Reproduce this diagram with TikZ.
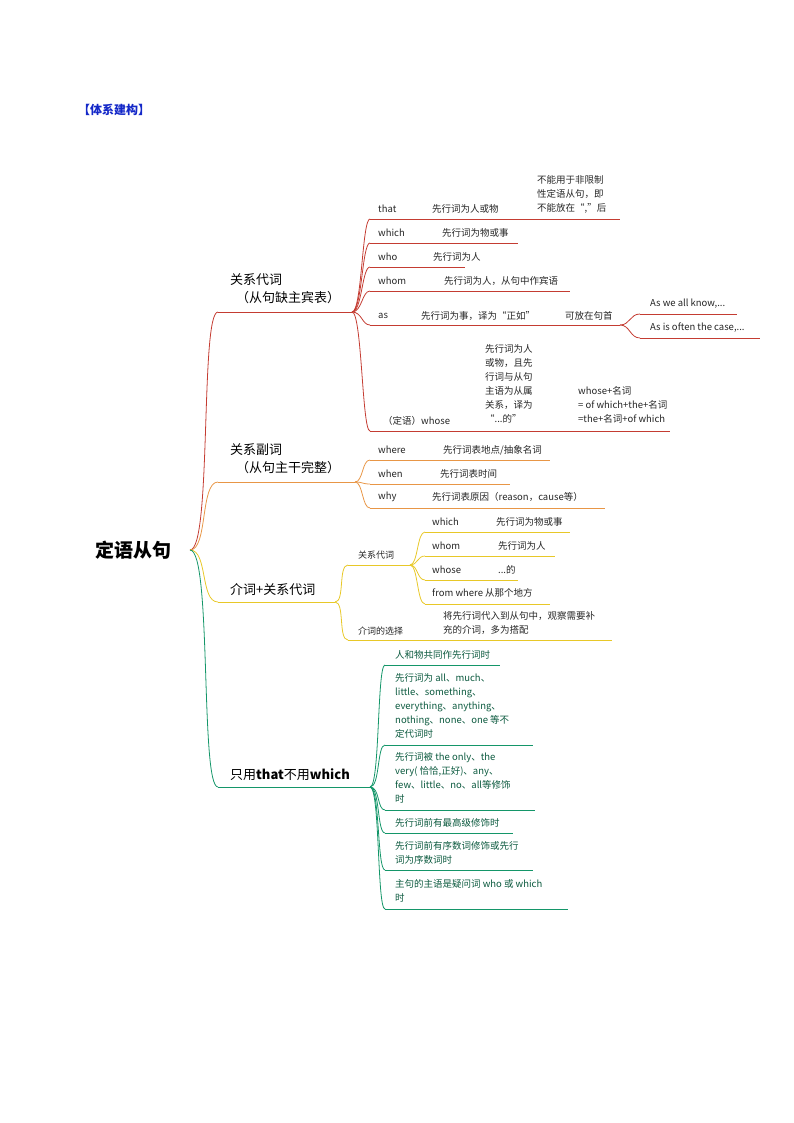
\documentclass[tikz,border=0pt]{standalone}
\usepackage{fontspec}
\setmainfont{Noto Sans CJK SC}
\begin{document}
\begin{tikzpicture}[x=1pt,y=-1pt,
  t/.style={anchor=west,inner sep=0,font=\fontsize{9.5}{13.5}\selectfont,text=tc,align=left},
  tm/.style={anchor=north west,inner sep=0,font=\fontsize{9.5}{14}\selectfont,text=tc,align=left},
  big/.style={anchor=west,inner sep=0,font=\fontsize{13}{18}\selectfont,text=black,align=left},
  ln/.style={line width=0.8pt},
  cv/.style={line width=0.8pt}]
\colorlet{tc}{black!85}
\definecolor{cr}{RGB}{196,60,50}
\definecolor{co}{RGB}{232,150,70}
\definecolor{cy}{RGB}{232,200,40}
\definecolor{cg}{RGB}{20,150,105}
\useasboundingbox (0,0) rectangle (794,1123);
\node[anchor=west,inner sep=0,text={rgb,255:red,20;green,40;blue,200},font=\bfseries\fontsize{12}{14}\selectfont] (title) at (78,110) {【体系建构】};
\node[anchor=west,inner sep=0,font=\bfseries\fontsize{19}{22}\selectfont] (root) at (95,550) {定语从句};
\coordinate (R) at (190,550);
% ---------- red ----------
\begin{scope}[draw=cr]
\node[big] (b1) at (230,280) {关系代词};
\node[big] (b1b) at (236,298) {（从句缺主宾表）};
\coordinate (b1s) at (218,312); \coordinate (b1e) at (352,312);
\draw[cv] (R) .. controls (212,550) and (200,312) .. (b1s);
\draw[ln] (b1s) -- (b1e);
\foreach \n/\y/\e in {a/219/620,b/243/518,c/267/465,d/291/570,e/325/620,f/431/670}{
  \coordinate (r\n-s) at (370,\y); \coordinate (r\n-e) at (\e,\y);
  \draw[cv] (b1e) .. controls (362,312) and (362,\y) .. (r\n-s);
  \draw[ln] (r\n-s) -- (r\n-e);}
\node[t] (t1) at (378,209) {that};
\node[t] (t1a) at (432,209) {先行词为人或物};
\node[tm] (t1b) at (537,175) {不能用于非限制\\性定语从句，即\\不能放在“,”后};
\node[t] (t2) at (378,233) {which};
\node[t] (t2a) at (442,233) {先行词为物或事};
\node[t] (t3) at (378,257) {who};
\node[t] (t3a) at (433,257) {先行词为人};
\node[t] (t4) at (378,281) {whom};
\node[t] (t4a) at (444,281) {先行词为人，从句中作宾语};
\node[t] (t5) at (378,316) {as};
\node[t] (t5a) at (421,316) {先行词为事，译为“正如”};
\node[t] (t5b) at (565,316) {可放在句首};
\coordinate (asa) at (640,314); \coordinate (asae) at (737,314);
\coordinate (asb) at (640,338); \coordinate (asbe) at (760,338);
\draw[cv] (re-e) .. controls (630,325) and (630,314) .. (asa); \draw[ln] (asa) -- (asae);
\draw[cv] (re-e) .. controls (630,325) and (630,338) .. (asb); \draw[ln] (asb) -- (asbe);
\node[t] (t5c) at (650,304) {As we all know,...};
\node[t] (t5d) at (650,328) {As is often the case,...};
\node[t] (t6) at (383,421) {（定语）whose};
\node[tm] (t6a) at (485,344) {先行词为人\\或物，且先\\行词与从句\\主语为从属\\关系，译为\\“...的”};
\node[tm] (t6b) at (578,386) {whose+名词\\= of which+the+名词\\=the+名词+of which};
\end{scope}
% ---------- orange ----------
\begin{scope}[draw=co]
\node[big] (b2) at (230,450) {关系副词};
\node[big] (b2b) at (236,468) {（从句主干完整）};
\coordinate (b2s) at (218,482); \coordinate (b2e) at (355,482);
\draw[cv] (R) .. controls (208,550) and (200,482) .. (b2s);
\draw[ln] (b2s) -- (b2e);
\foreach \n/\y/\e in {a/460/550,b/484/510,c/508/605}{
  \coordinate (o\n-s) at (370,\y); \coordinate (o\n-e) at (\e,\y);
  \draw[cv] (b2e) .. controls (363,482) and (362,\y) .. (o\n-s);
  \draw[ln] (o\n-s) -- (o\n-e);}
\node[t] (o1) at (378,450) {where};
\node[t] (o1a) at (443,450) {先行词表地点/抽象名词};
\node[t] (o2) at (378,474) {when};
\node[t] (o2a) at (440,474) {先行词表时间};
\node[t] (o3) at (378,497) {why};
\node[t] (o3a) at (432,497) {先行词表原因（reason，cause等）};
\end{scope}
% ---------- yellow ----------
\begin{scope}[draw=cy]
\node[big] (b3) at (230,590) {介词+关系代词};
\coordinate (b3s) at (218,602); \coordinate (b3e) at (335,602);
\draw[cv] (R) .. controls (208,550) and (200,602) .. (b3s);
\draw[ln] (b3s) -- (b3e);
\node[t,font=\fontsize{9}{12}\selectfont] (y1) at (358,555) {关系代词};
\coordinate (y1s) at (348,565); \coordinate (y1e) at (410,565);
\draw[cv] (b3e) .. controls (345,602) and (338,565) .. (y1s); \draw[ln] (y1s) -- (y1e);
\foreach \n/\y/\e in {a/532/570,b/556/555,c/580/518,d/604/550}{
  \coordinate (y\n-s) at (425,\y); \coordinate (y\n-e) at (\e,\y);
  \draw[cv] (y1e) .. controls (418,565) and (417,\y) .. (y\n-s);
  \draw[ln] (y\n-s) -- (y\n-e);}
\node[t] (ya1) at (432,522) {which};
\node[t] (ya2) at (496,522) {先行词为物或事};
\node[t] (yb1) at (432,546) {whom};
\node[t] (yb2) at (498,546) {先行词为人};
\node[t] (yc1) at (432,570) {whose};
\node[t] (yc2) at (498,570) {...的};
\node[t] (yd1) at (432,593) {from where 从那个地方};
\node[t,font=\fontsize{9}{12}\selectfont] (y2) at (358,631) {介词的选择};
\coordinate (y2s) at (348,640); \coordinate (y2e) at (612,640);
\draw[cv] (b3e) .. controls (345,602) and (338,640) .. (y2s); \draw[ln] (y2s) -- (y2e);
\node[tm] (y2a) at (443,611) {将先行词代入到从句中，观察需要补\\充的介词，多为搭配};
\end{scope}
% ---------- green ----------
\begin{scope}[draw=cg]
\colorlet{tc}{cg!60!black}
\node[big] (b4) at (230,775) {只用\textbf{that}不用\textbf{which}};
\coordinate (b4s) at (218,787); \coordinate (b4e) at (370,787);
\draw[cv] (R) .. controls (212,550) and (200,787) .. (b4s);
\draw[ln] (b4s) -- (b4e);
\foreach \n/\y/\e in {a/665/500,b/745/533,c/810/535,d/833/513,e/870/533,f/909/568}{
  \coordinate (g\n-s) at (385,\y); \coordinate (g\n-e) at (\e,\y);
  \draw[cv] (b4e) .. controls (380,787) and (377,\y) .. (g\n-s);
  \draw[ln] (g\n-s) -- (g\n-e);}
\node[tm] (g1) at (395,650) {人和物共同作先行词时};
\node[tm] (g2) at (395,673) {先行词为 all、much、\\little、something、\\everything、anything、\\nothing、none、one 等不\\定代词时};
\node[tm] (g3) at (395,752) {先行词被 the only、the\\very( 恰恰,正好)、any、\\few、little、no、all等修饰\\时};
\node[tm] (g4) at (395,818) {先行词前有最高级修饰时};
\node[tm] (g5) at (395,841) {先行词前有序数词修饰或先行\\词为序数词时};
\node[tm] (g6) at (395,879) {主句的主语是疑问词 who 或 which\\时};
\end{scope}
\end{tikzpicture}
\end{document}
